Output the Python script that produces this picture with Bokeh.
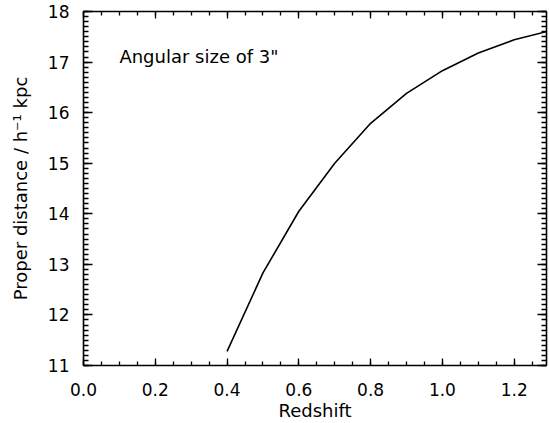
from bokeh.plotting import figure
from bokeh.models import (LinearAxis, SingleIntervalTicker, PrintfTickFormatter, Range1d, Label,
                          CustomJSTickFormatter)
from bokeh.embed import file_html
from bokeh.resources import INLINE

# Data
redshift = [0.4, 0.5, 0.6, 0.7, 0.8, 0.9, 1.0, 1.1, 1.2, 1.3]
proper_distance = [11.28, 12.83, 14.05, 15.0, 15.79, 16.38, 16.83, 17.18, 17.44, 17.62]

x_label = "Redshift"
y_label = "Proper distance / h\u207b\u00b9 kpc"
note = 'Angular size of 3"'

FONT = "DejaVu Sans"
FS_TICK = "17px"
FS_LABEL = "18px"

p = figure(width=549, height=423, output_backend="svg", toolbar_location=None,
           x_range=Range1d(0, 1.29), y_range=Range1d(11, 18),
           x_axis_type=None, y_axis_type=None,
           min_border_left=83, min_border_right=3, min_border_top=11, min_border_bottom=55)
p.background_fill_color = "white"
p.border_fill_color = "white"
p.outline_line_color = None
p.xgrid.visible = False
p.ygrid.visible = False


def make_axis(kind, labels=True):
    if kind == "x":
        ticker = SingleIntervalTicker(interval=0.2, num_minor_ticks=4)
        fmt = PrintfTickFormatter(format="%.1f")
        major_in, minor_in = 7, 4
    else:
        ticker = SingleIntervalTicker(interval=1, num_minor_ticks=10)
        fmt = PrintfTickFormatter(format="%d")
        major_in, minor_in = 9, 5
    if not labels:
        fmt = CustomJSTickFormatter(code="return ''")
    ax = LinearAxis(ticker=ticker, formatter=fmt)
    ax.major_tick_in = major_in
    ax.major_tick_out = 0
    ax.minor_tick_in = minor_in
    ax.minor_tick_out = 0
    ax.axis_line_width = 1.6
    ax.major_tick_line_width = 1.3
    ax.minor_tick_line_width = 1.3
    ax.axis_line_color = "black"
    ax.major_tick_line_color = "black"
    ax.minor_tick_line_color = "black"
    if labels:
        ax.major_label_text_font = FONT
        ax.major_label_text_font_size = FS_TICK
        ax.major_label_text_color = "black"
        ax.axis_label_text_font = FONT
        ax.axis_label_text_font_size = FS_LABEL
        ax.axis_label_text_font_style = "normal"
        ax.axis_label_text_color = "black"
    else:
        ax.major_label_standoff = 0
        ax.axis_label_standoff = 0
    return ax


xb = make_axis("x")
xb.axis_label = x_label
xb.major_label_standoff = 17
xb.axis_label_standoff = 1
p.add_layout(xb, "below")

yl = make_axis("y")
yl.axis_label = y_label
yl.major_label_standoff = 14
yl.axis_label_standoff = 14
yl.major_label_orientation = "horizontal"
p.add_layout(yl, "left")

p.add_layout(make_axis("x", labels=False), "above")
p.add_layout(make_axis("y", labels=False), "right")

p.line(redshift, proper_distance, line_color="black", line_width=1.6)

p.add_layout(Label(x=0.1, y=17.12, text=note, text_font=FONT, text_font_size=FS_LABEL,
                   text_color="black", text_baseline="alphabetic", text_align="left"))

open("out.html", "w").write(file_html(p, INLINE))
